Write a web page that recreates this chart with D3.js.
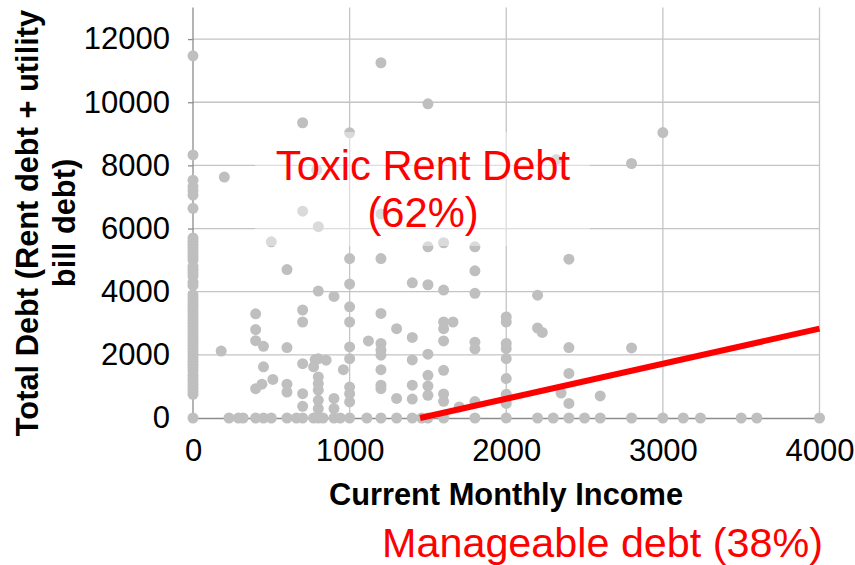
<!DOCTYPE html>
<html>
<head>
<meta charset="utf-8">
<title>Income vs Total Debt</title>
<style>
  body { margin: 0; background: #fff; }
  svg { display: block; font-family: "Liberation Sans", Arial, sans-serif; }
</style>
</head>
<body>
<svg width="855" height="565"></svg>
<script src="https://d3js.org/d3.v7.min.js"></script>
<script>
// respondents: current monthly income / total debt (rent + utility bill)
const income = [
  // no income
  0, 0, 0, 0, 0, 0, 0, 0, 0, 0, 0, 0, 0, 0, 0, 0, 0, 0, 0, 0,
  0, 0, 0, 0, 0, 0, 0, 0, 0, 0, 0, 0, 0, 0, 0, 0, 0, 0, 0, 0,
  0, 0, 0, 0, 0, 0, 0, 0, 0, 0, 0, 0, 0, 0,
  // no debt
  230, 290, 320, 400, 450, 500, 600, 660, 700, 770, 800, 830, 900, 940, 1000, 1110, 1200, 1300,
  1400, 1460, 1500, 1600, 1800, 2000, 2200, 2300, 2400, 2500, 2600, 2800, 3000, 3130, 3240, 3500, 3600, 4000,
  // the rest
  200, 180,
  400, 400, 400, 450, 400, 440, 510, 450, 500,
  600, 600, 600, 600,
  700, 700, 700, 700, 700, 700, 700,
  780, 770, 800, 790, 800,
  800, 850, 800, 800, 800, 800, 800,
  900, 900, 900,
  1000, 1000, 1000, 1000, 1000, 1000, 1000, 960, 1000, 1000, 1000,
  1120,
  1200, 1200, 1200, 1200, 1200, 1200, 1200, 1200, 1200, 1200,
  1300, 1300,
  1400, 1400, 1400, 1400, 1400,
  1500, 1500, 1500, 1500, 1500, 1500, 1500,
  1600, 1600, 1600, 1600, 1600, 1600, 1600, 1600, 1660,
  1700,
  1800, 1800, 1800, 1800, 1800, 1800,
  2000, 2000, 2000, 2000, 2000, 2000, 2000, 2000,
  2200, 2200, 2230, 2320, 2350,
  2400, 2400, 2400, 2400,
  2600, 2800, 2800, 3000
]
const debt = [
  0, 750, 850, 950, 1050, 1150, 1250, 1350, 1500, 1600, 1700, 1800, 1900, 2000, 2100, 2200, 2300, 2400, 2500, 2600,
  2700, 2800, 2900, 3000, 3100, 3200, 3300, 3400, 3500, 3600, 3700, 3800, 3900, 4200, 4300, 4500, 4600, 4700, 4800, 5000,
  5100, 5200, 5300, 5400, 5500, 5600, 5700, 6640, 7060, 7200, 7330, 7530, 8330, 11470,
  0, 0, 0, 0, 0, 0, 0, 0, 0, 0, 0, 0, 0, 0, 0, 0, 0, 0,
  0, 0, 0, 0, 0, 0, 0, 0, 0, 0, 0, 0, 0, 0, 0, 0, 0, 0,
  7630, 2120,
  3300, 2800, 2450, 2270, 930, 1070, 1220, 1620, 5580,
  2230, 1070, 820, 4700,
  9350, 6550, 3420, 3040, 1720, 770, 370,
  1850, 1620, 4020, 7850, 6060,
  1880, 1830, 1300, 1090, 880, 560, 300,
  3850, 620, 300,
  9030, 5050, 4240, 3520, 3040, 2250, 1880, 1530, 980, 770, 510,
  2440,
  11250, 6460, 5050, 3310, 2360, 2150, 1990, 1530, 1040, 930,
  2830, 620,
  4280, 2550, 1840, 1040, 600,
  9950, 5420, 4220, 2020, 1350, 1010, 720,
  5550, 4050, 3040, 2830, 2440, 1510, 760, 530, 3040,
  350,
  5420, 4660, 3950, 2400, 2190, 520,
  3200, 3040, 2360, 2200, 1880, 1250, 750, 460,
  3890, 2850, 2710, 8190, 790,
  5030, 2230, 1410, 460,
  700, 8060, 2220, 9040
]

const xTicks = [0, 1000, 2000, 3000, 4000]
const yTicks = [0, 2000, 4000, 6000, 8000, 10000, 12000]

// threshold line between toxic and manageable debt
const thresholdIncome = [1450, 4000]
const thresholdDebt = [0, 2830]

const toxicLabel = ["Toxic Rent Debt", "(62%)"]
const manageableLabel = "Manageable debt (38%)"

const svg = d3.select("svg")

const x = d3.scaleLinear().domain([0, 4000]).range([193, 819.5])
const y = d3.scaleLinear().domain([0, 13000]).range([418, 7.5])

// grid
svg.append("g")
    .attr("stroke", "#c4c4c4")
    .attr("stroke-width", 1.3)
    .selectAll("line.v")
    .data(xTicks.slice(1))
    .join("line")
    .attr("x1", d => x(d)).attr("x2", d => x(d))
    .attr("y1", y(0)).attr("y2", y(13000))

svg.append("g")
    .attr("stroke", "#c4c4c4")
    .attr("stroke-width", 1.3)
    .selectAll("line.h")
    .data(yTicks.slice(1))
    .join("line")
    .attr("x1", x(0)).attr("x2", x(4000))
    .attr("y1", d => y(d)).attr("y2", d => y(d))

// axes
const yAxis = svg.append("g")
    .attr("transform", `translate(${x(0)},0)`)
    .call(d3.axisLeft(y).tickValues(yTicks).tickFormat(d3.format("d")).tickSize(5).tickPadding(18))
yAxis.select(".domain").attr("stroke", "#8c8c8c").attr("stroke-width", 1.3)
    .attr("d", `M0,${y(0)}V${y(13000)}`)
yAxis.selectAll(".tick line").attr("stroke", "#8c8c8c").attr("stroke-width", 1.3)
yAxis.selectAll("text")
    .attr("font-size", 31)
    .attr("font-family", "Liberation Sans, Arial, sans-serif")
    .attr("fill", "#000")

const xAxis = svg.append("g")
    .attr("transform", `translate(0,${y(0)})`)
    .call(d3.axisBottom(x).tickValues(xTicks).tickFormat(d3.format("d")).tickSize(0).tickPadding(21))
xAxis.select(".domain").attr("stroke", "#8c8c8c").attr("stroke-width", 1.3)
xAxis.selectAll("text")
    .attr("font-size", 31)
    .attr("font-family", "Liberation Sans, Arial, sans-serif")
    .attr("fill", "#000")

// points
const points = d3.zip(income, debt)
svg.append("g")
    .attr("fill", "#bfbfbf")
    .selectAll("circle")
    .data(points)
    .join("circle")
    .attr("cx", d => x(d[0]))
    .attr("cy", d => y(d[1]))
    .attr("r", 5.5)

// label box (semi transparent white behind the text)
svg.append("rect")
    .attr("x", 255).attr("y", 132)
    .attr("width", 335).attr("height", 114)
    .attr("fill", "#fff")
    .attr("fill-opacity", 0.42)

svg.append("text")
    .attr("fill", "#ff0000")
    .attr("font-size", 41.7)
    .attr("text-anchor", "middle")
    .selectAll("tspan")
    .data(toxicLabel)
    .join("tspan")
    .attr("x", 423)
    .attr("y", (d, i) => 179.5 + i * 47.5)
    .text(d => d)

// threshold line
svg.append("line")
    .attr("x1", x(thresholdIncome[0])).attr("y1", y(thresholdDebt[0]))
    .attr("x2", x(thresholdIncome[1])).attr("y2", y(thresholdDebt[1]))
    .attr("stroke", "#ff0000")
    .attr("stroke-width", 6)

// axis titles
svg.append("text")
    .attr("x", 506).attr("y", 505)
    .attr("text-anchor", "middle")
    .attr("font-size", 30.8)
    .attr("font-weight", "bold")
    .text("Current Monthly Income")

const yTitle = svg.append("text")
    .attr("transform", "translate(28,223) rotate(-90)")
    .attr("text-anchor", "middle")
    .attr("font-size", 30.8)
    .attr("font-weight", "bold")
yTitle.append("tspan").attr("x", 0).attr("y", 10).text("Total Debt (Rent debt + utility")
yTitle.append("tspan").attr("x", 0).attr("y", 47).text("bill debt)")

svg.append("text")
    .attr("x", 602.5).attr("y", 557)
    .attr("text-anchor", "middle")
    .attr("font-size", 41.3)
    .attr("fill", "#ff0000")
    .text(manageableLabel)
</script>
</body>
</html>
